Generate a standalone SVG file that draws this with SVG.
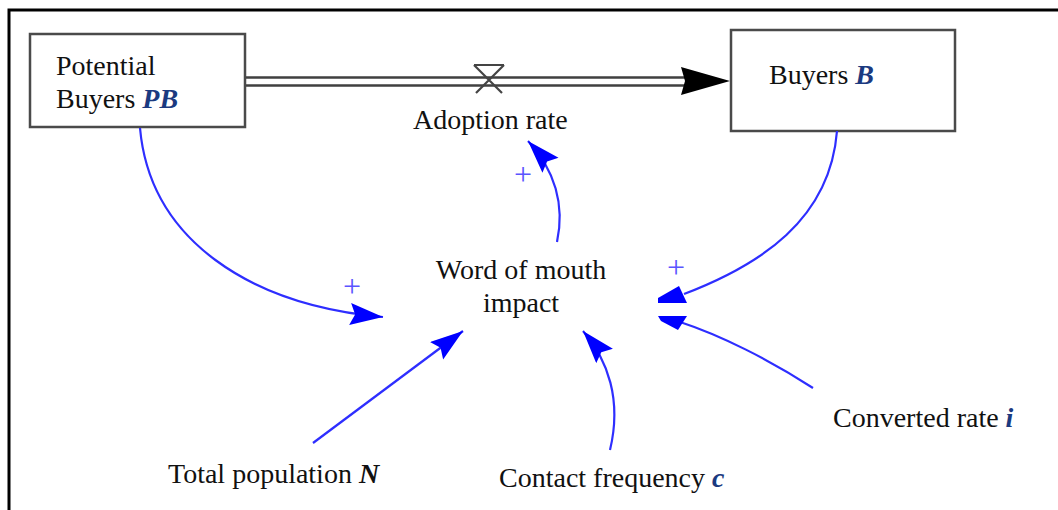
<svg xmlns="http://www.w3.org/2000/svg" width="1058" height="510" viewBox="0 0 1058 510">
<style>
.t{font-family:"Liberation Serif","Times New Roman",serif;font-size:28px;fill:#111}
.v{font-weight:bold;font-style:italic;fill:#1b3a80}
.box{fill:#fff;stroke:#4a4a4a;stroke-width:2.5}
.pipe{stroke:#404040;stroke-width:2.6;fill:none}
.link{fill:none;stroke:#2e2eff;stroke-width:2.2}
.head{fill:#0000ff}
.plus{font-family:"Liberation Serif","Times New Roman",serif;font-size:32px;fill:#5a55ff;text-anchor:middle}
</style>
<defs>
<marker id="ah" markerUnits="userSpaceOnUse" markerWidth="36" markerHeight="24" refX="33" refY="11" orient="auto">
<path d="M0,0 L33,11 L0,22 L5,11 Z" fill="#0000ff"/>
</marker>
</defs>
<rect width="1058" height="510" fill="#fff"/>
<g id="frame" stroke="#000" stroke-width="3" fill="none">
<path d="M9,510 V10 H1058"/>
</g>
<g id="flow">
<path class="pipe" d="M246,77.5 H700 M246,85.5 H700"/>
<polygon points="681,67 730,81 681,95 685,81" fill="#000"/>
<path d="M474,65 H504 M474,65 L502,93 M504,65 L476,93" stroke="#444" stroke-width="2.2" fill="none"/>
</g>
<g id="potential-buyers">
<rect class="box" x="30" y="34" width="215" height="93"/>
<text class="t" x="56" y="75">Potential</text>
<text class="t" x="56" y="108">Buyers <tspan class="v">PB</tspan></text>
</g>
<g id="buyers">
<rect class="box" x="731" y="30" width="224" height="101"/>
<text class="t" x="769" y="84">Buyers <tspan class="v">B</tspan></text>
</g>
<g id="adoption-rate">
<text class="t" x="413" y="129">Adoption rate</text>
</g>
<g id="word-of-mouth">
<text class="t" x="521" y="279" text-anchor="middle">Word of mouth</text>
<text class="t" x="521" y="312" text-anchor="middle">impact</text>
</g>
<g id="total-population">
<text class="t" x="168" y="483">Total population <tspan style="font-weight:bold;font-style:italic;fill:#111">N</tspan></text>
</g>
<g id="contact-frequency">
<text class="t" x="499" y="487">Contact frequency <tspan class="v">c</tspan></text>
</g>
<g id="converted-rate">
<text class="t" x="833" y="427">Converted rate <tspan class="v">i</tspan></text>
</g>
<g id="connectors">
<path class="link" d="M140,128 C150,240 250,305 383,317" marker-end="url(#ah)"/>
<path class="link" d="M557,242 C565,205 555,170 528,141" marker-end="url(#ah)"/>
<path class="link" d="M313,443 L463,331" marker-end="url(#ah)"/>
<path class="link" d="M610,450 C622,400 608,360 583,331" marker-end="url(#ah)"/>
<path class="link" d="M837,131 C830,220 760,265 684,294"/>
<polygon class="head" points="679,286 658,298 658,303 687,303"/>
<path class="link" d="M813,388 C770,360 720,335 680,322"/>
<polygon class="head" points="658,316 687,316 678,330 661,321"/>
<text class="plus" x="352" y="297">+</text>
<text class="plus" x="523" y="185">+</text>
<text class="plus" x="676" y="278">+</text>
</g>
</svg>
